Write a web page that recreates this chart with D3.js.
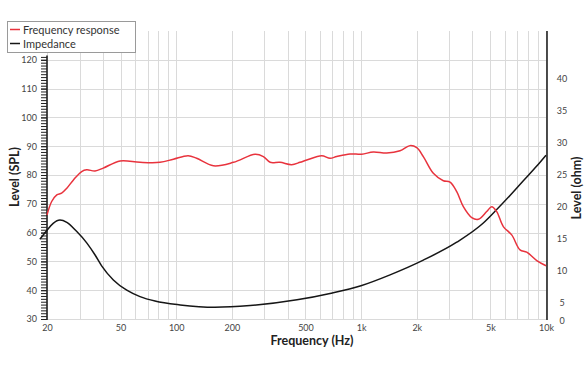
<!DOCTYPE html>
<html>
<head>
<meta charset="utf-8">
<script src="https://cdn.jsdelivr.net/npm/d3@7"></script>
<style>
  body { margin: 0; background: #fff; }
  text { font-family: Lato, "Open Sans", sans-serif; }
</style>
</head>
<body>
<script>
// frequency response (Hz, dB SPL)
const splFreq = [20, 21.2, 22.6, 24, 25.6, 27.8, 30.8, 32.8, 36.4, 40.3, 49.7, 63.7, 81.7, 96.5, 116, 129, 159, 204, 267, 296, 322, 364, 421, 467, 508, 612, 679, 738, 871, 1008, 1164, 1376, 1624, 1838, 1999, 2170, 2458, 2784, 3026, 3290, 3572, 3966, 4305, 4778, 5086, 5413, 5877, 6524, 7236, 7866, 8912, 10000];
const splLevel = [66.1, 70.8, 73.1, 73.7, 75.4, 78.3, 81.2, 81.8, 81.4, 82.4, 84.9, 84.4, 84.4, 85.5, 86.7, 85.8, 83.2, 84.4, 87.2, 86.4, 84.4, 84.4, 83.6, 84.4, 85.2, 86.7, 85.8, 86.4, 87.3, 87.2, 88.0, 87.6, 88.4, 90.2, 89.5, 86.4, 80.6, 78.0, 77.5, 74.2, 69.0, 65.2, 64.6, 67.3, 69.0, 67.3, 62.1, 59.2, 54.0, 53.2, 50.3, 48.5];

// impedance (Hz, ohm)
const impFreq = [18.3, 19.9, 21.6, 23.5, 25.6, 28.9, 32.8, 36.4, 39.5, 45.7, 54, 63.7, 76.8, 105, 162, 251, 450, 679, 998, 1434, 2170, 3290, 4581, 5413, 6388, 7540, 8912, 10000];
const impOhm = [14.95, 16.3, 17.45, 17.97, 17.6, 16.2, 14.4, 12.5, 10.8, 8.6, 7.0, 6.0, 5.3, 4.7, 4.33, 4.6, 5.5, 6.5, 7.7, 9.4, 11.7, 14.5, 17.5, 19.6, 21.8, 24.1, 26.4, 28.1];

const freqTicks = [20, 50, 100, 200, 500, 1000, 2000, 5000, 10000];
const freqGrid = [20, 30, 40, 50, 60, 70, 80, 90, 100, 200, 300, 400, 500, 600, 700, 800, 900, 1000, 2000, 3000, 4000, 5000, 6000, 7000, 8000, 9000, 10000];
const splTicks = [30, 40, 50, 60, 70, 80, 90, 100, 110, 120];
const ohmTicks = [0, 5, 10, 15, 20, 25, 30, 35, 40];

const W = 588, H = 372;
const plot = { left: 47, right: 547, top: 31, bottom: 319 };

const svg = d3.select('body').append('svg')
  .attr('width', W)
  .attr('height', H);

const x = d3.scaleLog().domain([20, 10000]).range([plot.left, plot.right - 1]);
const ySpl = d3.scaleLinear().domain([30, 130]).range([plot.bottom, plot.top]);
const yOhm = d3.scaleLinear().domain([2.5, 47.5]).range([plot.bottom, plot.top]);

// grid
const grid = svg.append('g').attr('stroke', '#dadada').attr('stroke-width', 1);
grid.selectAll('line.v').data(freqGrid).enter().append('line')
  .attr('x1', d => Math.round(x(d)) + 0.5).attr('x2', d => Math.round(x(d)) + 0.5)
  .attr('y1', plot.top).attr('y2', plot.bottom);
grid.selectAll('line.h').data(splTicks).enter().append('line')
  .attr('x1', plot.left).attr('x2', plot.right)
  .attr('y1', d => Math.round(ySpl(d)) + 0.5).attr('y2', d => Math.round(ySpl(d)) + 0.5);

// bottom axis labels
const xAxis = svg.append('g')
  .attr('transform', `translate(0,${plot.bottom})`)
  .call(d3.axisBottom(x).tickValues(freqTicks).tickSize(0).tickPadding(6)
    .tickFormat(d => d >= 1000 ? (d / 1000) + 'k' : d));
xAxis.select('.domain').remove();
xAxis.selectAll('text').attr('fill', '#444').style('font-size', '9px');

// left axis: minor ticks every 1 dB, labels every 10
const minor = d3.range(30, 122, 1);
const leftMinor = svg.append('g')
  .attr('transform', `translate(${plot.left},0)`)
  .call(d3.axisLeft(ySpl).tickValues(minor).tickSize(6).tickFormat(''));
leftMinor.select('.domain').remove();
leftMinor.selectAll('line').attr('stroke', '#222').attr('stroke-width', 1);

const leftAxis = svg.append('g')
  .attr('transform', `translate(${plot.left},0)`)
  .call(d3.axisLeft(ySpl).tickValues(splTicks).tickSize(6).tickPadding(4));
leftAxis.select('.domain').remove();
leftAxis.selectAll('line').attr('stroke', '#222');
leftAxis.selectAll('text').attr('fill', '#444').style('font-size', '9px');

svg.append('line')
  .attr('x1', plot.left).attr('x2', plot.left)
  .attr('y1', ySpl(121.5)).attr('y2', plot.bottom + 1)
  .attr('stroke', '#222').attr('stroke-width', 1.6);

// right axis
const rightAxis = svg.append('g')
  .attr('transform', `translate(${plot.right},0)`)
  .call(d3.axisRight(yOhm).tickValues(ohmTicks).tickSize(0).tickPadding(15));
rightAxis.select('.domain').remove();
rightAxis.selectAll('text')
  .attr('text-anchor', 'middle')
  .attr('fill', '#444').style('font-size', '9px');
rightAxis.selectAll('.tick')
  .attr('transform', d => `translate(0,${Math.min(yOhm(d), plot.bottom + 2)})`);

svg.append('line')
  .attr('x1', plot.right).attr('x2', plot.right)
  .attr('y1', plot.top).attr('y2', plot.bottom + 1)
  .attr('stroke', '#222').attr('stroke-width', 1.6);

// curves
const splData = splFreq.map((f, i) => ({ f: f, v: splLevel[i] }));
const impData = impFreq.map((f, i) => ({ f: f, v: impOhm[i] }));

svg.append('path')
  .datum(impData)
  .attr('fill', 'none')
  .attr('stroke', '#161616')
  .attr('stroke-width', 1.5)
  .attr('d', d3.line().x(d => x(d.f)).y(d => yOhm(d.v)).curve(d3.curveMonotoneX));

svg.append('path')
  .datum(splData)
  .attr('fill', 'none')
  .attr('stroke', '#e8333d')
  .attr('stroke-width', 1.5)
  .attr('d', d3.line().x(d => x(d.f)).y(d => ySpl(d.v)).curve(d3.curveCatmullRom));

// axis titles
svg.append('text')
  .attr('x', (plot.left + plot.right) / 2 + 15).attr('y', 345)
  .attr('text-anchor', 'middle')
  .style('font-size', '12.5px').style('font-weight', 'bold').attr('fill', '#222')
  .text('Frequency (Hz)');

svg.append('text')
  .attr('transform', 'translate(19,177) rotate(-90)')
  .attr('text-anchor', 'middle')
  .style('font-size', '12.5px').style('font-weight', 'bold').attr('fill', '#222')
  .text('Level (SPL)');

svg.append('text')
  .attr('transform', 'translate(581,188) rotate(-90)')
  .attr('text-anchor', 'middle')
  .style('font-size', '12.5px').style('font-weight', 'bold').attr('fill', '#222')
  .text('Level (ohm)');

// legend
const legendItems = [
  { name: 'Frequency response', color: '#e8333d' },
  { name: 'Impedance', color: '#161616' }
];
const legend = svg.append('g');
legend.append('rect')
  .attr('x', 7.5).attr('y', 21.5).attr('width', 128).attr('height', 31)
  .attr('fill', '#fff').attr('stroke', '#9a9a9a');
const li = legend.selectAll('g.item').data(legendItems).enter().append('g')
  .attr('transform', (d, i) => `translate(0,${29.5 + i * 14})`);
li.append('line')
  .attr('x1', 10).attr('x2', 20).attr('y1', 0).attr('y2', 0)
  .attr('stroke', d => d.color).attr('stroke-width', 1.5);
li.append('text')
  .attr('x', 23).attr('y', 4)
  .style('font-size', '11px').attr('fill', '#333')
  .text(d => d.name);
</script>
</body>
</html>
